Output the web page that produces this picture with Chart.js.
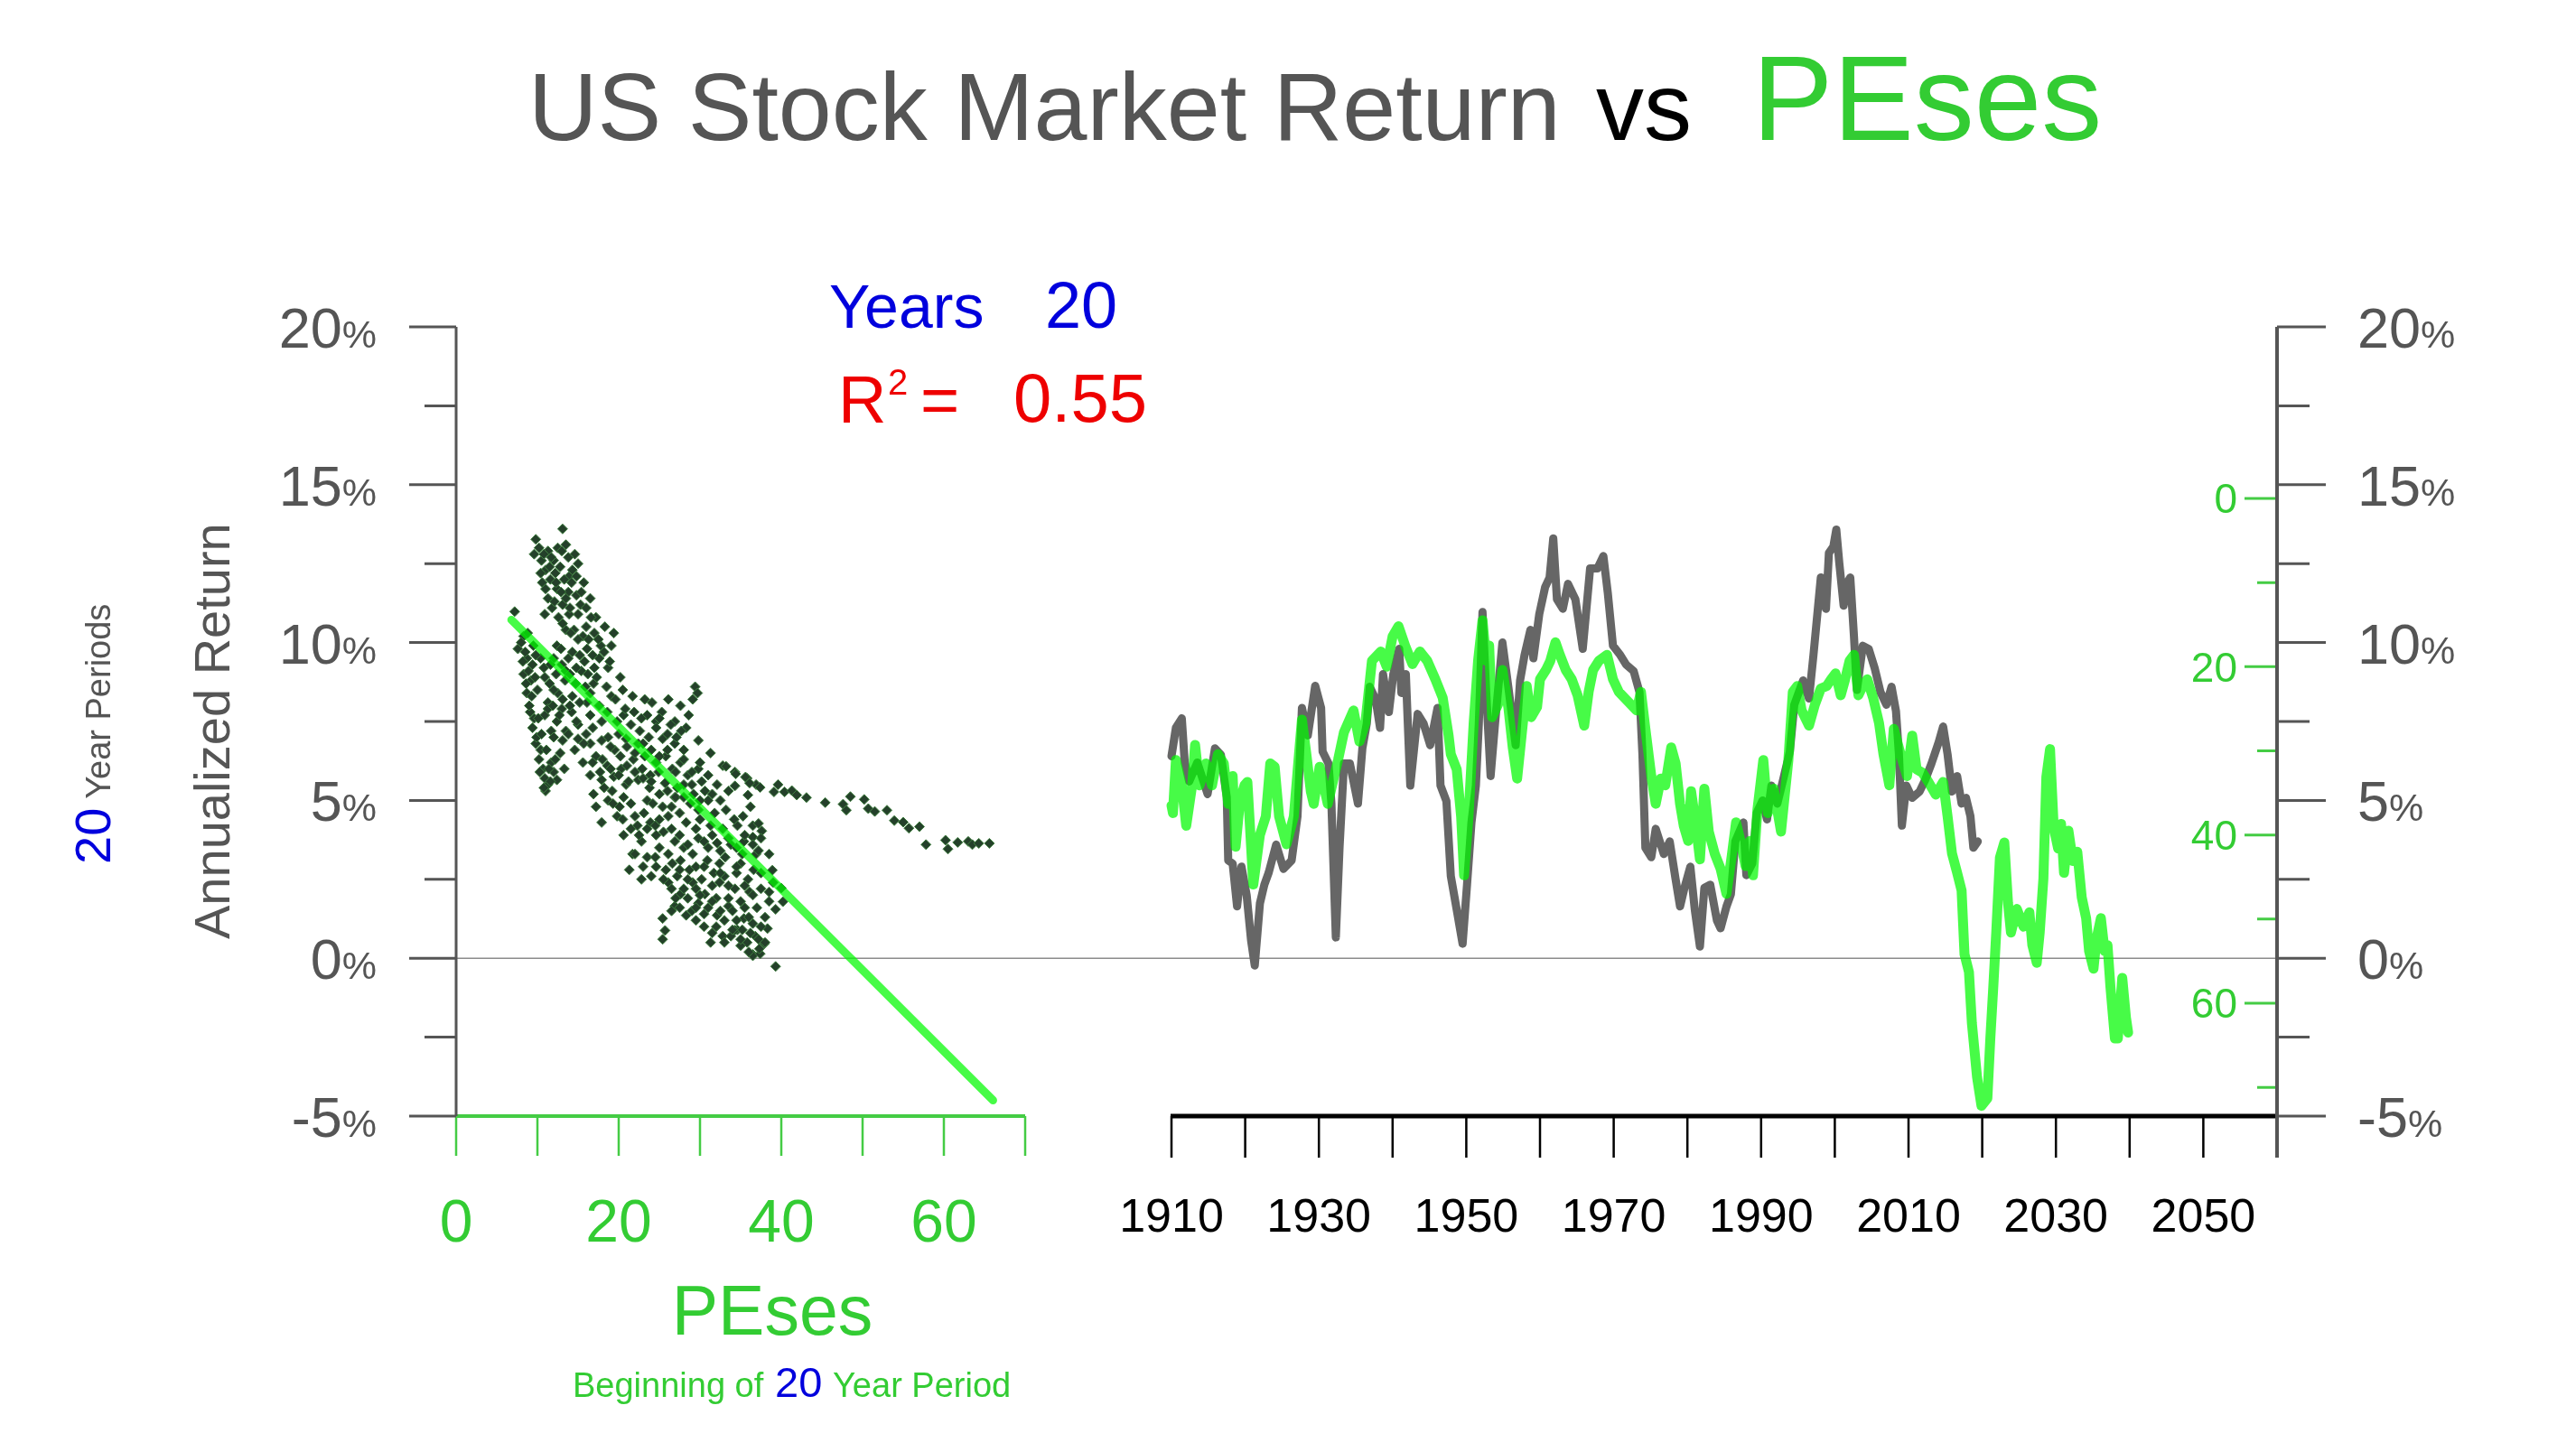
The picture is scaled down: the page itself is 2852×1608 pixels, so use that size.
<!DOCTYPE html>
<html>
<head>
<title>US Stock Market Return vs PEses</title>
<script src="https://cdn.jsdelivr.net/npm/chart.js"></script>
<style>
  html, body { margin: 0; padding: 0; background: #fff; }
  body { width: 2852px; height: 1608px; overflow: hidden; position: relative;
         font-family: "Liberation Sans", Arial, sans-serif; }
  canvas { position: absolute; left: 0; top: 0; }
  .t { position: absolute; white-space: nowrap; line-height: 1; }
  .rot { transform-origin: 0 0; transform: rotate(-90deg); }
</style>
</head>
<body>
<canvas id="peChart" width="2852" height="1608"></canvas>
<canvas id="timeChart" width="2852" height="1608"></canvas>

<div class="t" style="left:585px; top:65px; font-size:106px; color:#555;">US Stock Market Return</div>
<div class="t" style="left:1767px; top:65px; font-size:106px; color:#000;">vs</div>
<div class="t" style="left:1940px; top:42px; font-size:134px; color:#33cc33;">PEses</div>

<div class="t" style="left:918px; top:305px; font-size:68px; color:#0000dd;">Years</div>
<div class="t" style="left:1157px; top:302px; font-size:72px; color:#0000dd;">20</div>
<div class="t" style="left:928px; top:406px; font-size:74px; color:#ee0000;">R</div>
<div class="t" style="left:983px; top:403px; font-size:40px; color:#ee0000;">2</div>
<div class="t" style="left:1019px; top:406px; font-size:74px; color:#ee0000;">=</div>
<div class="t" style="left:1122px; top:403px; font-size:76px; color:#ee0000;">0.55</div>

<div class="t rot" style="left:207px; top:1040px; font-size:56px; color:#555;">Annualized Return</div>
<div class="t rot" style="left:75px; top:957px; font-size:56px; color:#555;"><span style="color:#0000dd;">20</span><span style="font-size:38px;"> Year Periods</span></div>

<div class="t" style="left:855px; top:1413px; font-size:77px; color:#33cc33; transform:translateX(-50%);">PEses</div>
<div class="t" style="left:634px; top:1515px; font-size:38px; color:#33cc33;">Beginning of</div>
<div class="t" style="left:858px; top:1507px; font-size:47px; color:#0000dd;">20</div>
<div class="t" style="left:922px; top:1515px; font-size:38px; color:#33cc33;">Year Period</div>

<script>
// ---- data ----
// scatter: PE at beginning of the 20 year period vs annualized return (%)
const scatterPE = [
  13.1, 9.8, 9.6, 11.3, 12.0, 13.5, 14.6, 15.0, 10.6, 12.4, 13.9, 15.7, 16.5, 11.3, 13.1, 10.9, 15.0, 17.2, 18.3, 19.4,
  19.1, 7.2, 8.3, 7.6, 13.5, 12.4, 14.3, 16.1, 17.6, 8.7, 9.4, 8.3, 10.9, 13.5, 15.4, 18.7, 20.2, 16.9, 8.7, 11.3,
  14.3, 16.1, 19.1, 21.7, 23.2, 26.1, 27.6, 29.4, 29.1, 9.1, 10.9, 12.4, 15.0, 16.5, 17.9, 20.6, 23.5, 24.6, 26.9, 28.3,
  9.4, 11.7, 13.1, 9.8, 15.0, 16.5, 18.7, 20.9, 22.4, 25.4, 26.9, 29.8, 31.3, 10.2, 11.7, 17.2, 20.2, 23.2, 24.6, 27.6,
  29.8, 32.8, 34.3, 35.8, 36.9, 10.9, 11.3, 12.4, 16.5, 17.9, 19.4, 20.9, 22.4, 23.9, 25.7, 28.0, 30.6, 32.1, 16.9, 18.7,
  20.6, 23.5, 25.4, 26.9, 29.8, 17.2, 17.9, 19.8, 22.0, 23.9, 26.1, 28.3, 31.3, 32.8, 34.6, 36.5, 20.6, 22.8, 24.6, 26.9,
  29.8, 32.1, 35.4, 21.7, 23.5, 21.3, 22.8, 24.6, 26.1, 27.6, 29.1, 30.9, 33.1, 35.0, 36.9, 26.1, 27.6, 29.1, 30.6, 32.4,
  34.3, 36.1, 26.9, 28.3, 29.8, 32.1, 33.5, 35.4, 25.4, 25.7, 25.4, 31.3, 32.8, 34.6, 35.8, 36.5,
  33.2, 34.4, 35.6, 36.1, 34.3, 35.9, 37.4, 39.1, 39.6, 40.4, 41.3, 41.9, 43.1, 45.4, 47.6, 48.5, 48.0, 50.2, 50.7, 51.5,
  53.0, 53.9, 55.0, 55.7, 57.0, 57.8, 60.2, 60.5, 61.7, 63.0, 63.5, 64.3, 65.6, 37.2, 37.6, 36.5, 37.2, 38.9, 40.0, 40.2,
  39.3, 38.3, 37.9, 36.5, 37.4, 39.3, 35.0, 34.3,
  10.5, 11.0, 11.6, 12.2, 12.8, 13.3, 13.8, 14.2, 14.8, 15.3, 11.8, 12.6, 13.9, 14.5, 15.6, 16.3, 17.0, 17.8, 16.8, 15.8,
  14.8, 13.8, 12.9, 12.0, 11.5, 12.5, 13.4, 14.7, 15.9, 17.3, 18.5, 19.6, 20.8, 21.5, 22.6, 23.7, 24.6, 25.3, 26.4, 27.7,
  28.6, 29.7, 16.8, 17.7, 18.6, 19.5, 20.3, 21.2, 21.8, 22.9, 23.8, 24.9, 25.8, 26.6, 27.2, 28.5, 29.2, 30.2, 31.0, 19.2,
  20.1, 21.5, 22.3, 23.1, 24.2, 25.0, 26.5, 27.5, 28.8, 30.0, 31.8, 33.2, 34.2, 35.3, 36.2, 22.0, 23.0, 24.0, 25.0, 25.8,
  26.6, 27.2, 28.0, 28.7, 29.5, 30.2, 31.0, 31.7, 32.4, 33.0, 33.8, 34.5, 35.2, 35.9, 36.6, 37.5, 27.0, 28.0, 29.0, 30.0,
  31.0, 32.0, 33.0, 34.0, 35.0, 36.0, 37.0, 38.0, 30.5, 31.5, 33.8, 35.2, 36.8, 37.3, 36.0, 29.5, 26.5, 8.0, 8.5, 8.9,
  9.2, 9.0, 9.6, 9.9, 10.4, 10.7, 11.0, 11.6, 12.0, 12.8, 13.5, 14.2, 14.6, 15.6, 16.0, 10.0, 10.8, 11.3, 12.0, 13.0,
  8.6, 9.5,
  10.2, 10.8, 11.7, 12.5, 13.0, 13.8, 14.3, 11.5, 12.3, 12.9, 13.5, 14.0, 14.8, 15.4, 16.0, 16.6, 12.1, 11.0, 10.4, 13.1,
  14.1, 15.0, 16.0, 17.5, 18.2, 18.9, 17.0, 16.2, 15.2, 14.0, 13.0, 12.3, 11.6, 10.4, 9.8,
  12.0, 13.1, 14.0, 15.2, 16.5, 17.6, 18.6, 19.8, 20.5, 21.9, 22.8, 24.1, 25.0, 26.0, 27.1, 28.0, 13.8, 14.8, 15.7, 16.8,
  17.9, 19.0, 20.0, 21.0, 22.0, 23.0, 24.0, 25.0, 26.0, 27.0, 28.0, 29.0, 30.0, 31.0, 18.0, 19.0, 20.0, 21.0, 22.0, 23.0,
  24.0, 25.0, 26.0, 27.0, 28.0, 29.0, 30.0, 31.5, 32.5, 33.5, 18.2, 19.3, 20.5, 21.5, 22.5, 23.5, 24.5, 25.5, 26.5, 27.5,
  28.5, 29.5, 30.5, 31.5, 32.5, 33.5, 34.5, 35.5, 36.5, 37.5, 38.5,
  24.5, 25.5, 26.5, 27.5, 28.5, 29.5, 30.5, 31.5, 32.5, 33.5, 34.5, 35.5, 36.5, 37.5, 38.5, 27.5, 28.5, 29.5, 30.5, 31.5,
  32.5, 33.5, 34.5, 35.5, 36.5, 37.5, 38.5, 39.0, 32.0, 33.0, 34.0, 35.0, 36.2, 37.2, 38.0,
  8.2, 8.8, 9.3, 9.7, 10.1, 10.5, 11.1, 11.4, 10.3, 10.8, 12.2, 13.3, 12.7, 11.9
];
const scatterRet = [
  13.6, 13.27, 12.8, 12.9, 12.6, 13.1, 12.8, 12.5, 11.9, 11.7, 12.1, 11.9, 11.4, 11.4, 11.2, 10.9, 10.9, 10.8, 10.5, 10.3,
  9.9, 10.98, 10.2, 9.8, 10.4, 9.9, 9.7, 9.8, 9.5, 9.5, 9.3, 9.0, 8.9, 9.1, 9.1, 9.2, 8.9, 8.7, 8.4, 8.1,
  8.3, 8.1, 8.3, 8.3, 8.2, 8.2, 8.0, 8.6, 8.2, 7.8, 7.7, 7.5, 7.4, 7.7, 7.5, 7.7, 7.7, 7.5, 7.5, 7.3,
  7.3, 7.2, 6.9, 6.8, 6.95, 6.8, 7.0, 6.95, 6.8, 6.95, 6.8, 6.9, 6.5, 6.3, 6.2, 6.4, 6.4, 6.4, 6.2, 6.2,
  6.0, 6.1, 5.9, 5.7, 5.5, 5.7, 5.5, 5.65, 5.8, 5.65, 5.75, 5.5, 5.65, 5.8, 5.55, 5.5, 5.3, 5.5, 5.2, 5.0,
  5.1, 5.0, 4.8, 5.1, 4.7, 4.8, 4.3, 4.5, 4.5, 4.3, 4.5, 4.3, 4.2, 4.1, 4.2, 4.2, 3.9, 3.7, 3.9, 3.7,
  3.8, 3.65, 3.7, 3.3, 3.2, 2.8, 2.5, 2.9, 3.3, 3.1, 3.3, 3.1, 3.2, 3.0, 3.3, 2.4, 2.03, 2.4, 2.03, 2.4,
  2.2, 2.1, 1.65, 1.36, 1.74, 1.36, 1.65, 1.26, 1.26, 0.88, 0.6, 0.5, 0.7, 0.9, 0.5, 0.12,
  6.08, 5.84, 5.74, 5.55, 5.46, 5.17, 5.41, 5.27, 5.5, 5.27, 5.31, 5.17, 5.09, 4.93, 4.88, 5.12, 4.69, 5.03, 4.74, 4.65,
  4.69, 4.36, 4.31, 4.12, 4.17, 3.6, 3.74, 3.46, 3.67, 3.7, 3.6, 3.64, 3.64, 4.27, 4.03, 3.84, 3.41, 2.79, 2.22, 1.79,
  1.55, 0.94, 0.46, 0.08, 0.14, -0.26, 0.4, 0.89,
  12.6, 12.3, 12.0, 12.2, 12.4, 12.0, 11.6, 11.9, 11.5, 11.2, 11.1, 10.8, 10.9, 10.4, 10.2, 10.1, 10.3, 9.9, 9.6, 9.4,
  9.2, 9.5, 9.8, 9.5, 8.7, 8.4, 8.8, 8.7, 8.6, 8.9, 8.6, 8.2, 7.9, 7.4, 7.2, 7.0, 7.3, 7.8, 7.4, 7.2,
  7.7, 8.4, 6.2, 5.9, 6.1, 6.6, 6.0, 5.6, 6.3, 6.0, 5.4, 5.9, 6.4, 6.0, 5.4, 5.8, 5.2, 5.6, 5.0, 5.3,
  4.8, 4.9, 4.2, 4.6, 4.9, 4.4, 4.8, 4.6, 4.9, 4.4, 4.6, 4.7, 4.4, 4.5, 4.8, 3.3, 2.9, 2.6, 3.5, 2.8,
  3.0, 2.6, 3.5, 2.8, 2.9, 2.5, 3.5, 2.7, 3.0, 2.6, 3.6, 2.7, 3.3, 2.5, 2.8, 2.2, 1.9, 2.2, 1.5, 2.0,
  1.6, 1.9, 1.2, 1.5, 1.8, 1.3, 1.6, 1.3, 1.0, 0.8, 0.7, 0.9, 0.7, 0.3, 0.2, 1.2, 1.5, 10.0, 9.7, 9.1,
  8.8, 8.0, 7.6, 7.0, 6.6, 6.0, 5.3, 5.6, 5.9, 6.5, 7.2, 7.8, 6.6, 6.2, 7.1, 8.5, 9.2, 7.9, 7.0, 7.9,
  8.7, 9.9,
  13.0, 12.8, 12.7, 13.0, 12.9, 12.7, 12.3, 12.4, 11.9, 11.6, 11.4, 11.1, 12.1, 11.6, 11.1, 10.8, 11.3, 11.7, 12.2, 10.6,
  10.3, 10.1, 10.5, 10.1, 9.7, 9.4, 9.2, 9.0, 9.6, 9.0, 9.3, 9.0, 9.3, 9.5, 9.6,
  8.5, 8.2, 8.0, 8.1, 8.4, 8.0, 7.8, 7.5, 8.5, 7.8, 7.6, 8.1, 7.6, 7.1, 7.0, 6.6, 7.1, 7.5, 6.8, 7.3,
  6.9, 6.7, 7.1, 6.7, 6.5, 6.8, 6.6, 6.4, 6.6, 5.9, 6.3, 5.9, 6.2, 5.8, 6.3, 6.0, 5.8, 6.1, 5.9, 5.7,
  5.6, 5.2, 5.3, 5.1, 5.1, 5.5, 5.0, 5.2, 5.0, 5.3, 5.4, 4.9, 4.4, 4.1, 3.9, 4.1, 4.2, 4.0, 4.1, 3.9,
  3.6, 4.1, 3.7, 3.9, 3.4, 3.8, 3.5, 3.9, 3.6, 3.8, 3.3,
  3.2, 2.5, 2.2, 2.8, 2.5, 2.2, 2.9, 2.3, 2.7, 2.3, 2.9, 2.3, 2.0, 2.7, 2.1, 1.6, 1.9, 1.6, 1.4, 1.8,
  1.5, 1.9, 1.2, 1.6, 1.1, 1.0, 1.8, 2.4, 1.0, 0.5, 0.9, 0.6, 0.8, 0.6, 0.5,
  9.4, 10.3, 8.3, 8.9, 7.6, 7.1, 6.6, 6.0, 5.9, 5.4, 6.3, 6.0, 7.7, 8.0
];
// regression line end points
const fitPE = [6.8, 66.05];
const fitRet = [10.72, -4.5];

// 20 year annualized return (%) against time
const returnYears = [
  1910.0, 1910.6, 1911.4, 1911.8, 1912.4, 1913.5, 1914.9, 1915.9, 1916.7, 1917.5, 1917.7, 1918.3, 1918.9, 1919.5, 1920.2,
  1920.8, 1921.3, 1922.0, 1922.6, 1923.2, 1924.2, 1925.2, 1926.3, 1927.1, 1927.7, 1928.5, 1929.5, 1930.3, 1930.5, 1931.3,
  1931.7, 1932.3, 1932.8, 1933.4, 1934.2, 1934.7, 1935.3, 1935.9, 1936.5, 1936.9, 1937.7, 1938.3, 1938.7, 1939.5, 1940.1,
  1940.9, 1941.2, 1941.8, 1942.4, 1943.4, 1944.2, 1945.1, 1946.1, 1946.5, 1947.3, 1947.9, 1948.7, 1949.5, 1950.1, 1950.7,
  1951.3, 1951.7, 1952.2, 1952.7, 1953.3, 1953.9, 1954.9, 1955.7, 1956.7, 1957.3, 1957.9, 1958.7, 1959.1, 1959.9, 1960.7,
  1961.3, 1961.8, 1962.3, 1963.1, 1963.8, 1964.8, 1965.8, 1966.8, 1967.8, 1968.6, 1969.2, 1969.9, 1970.9, 1971.7, 1972.7,
  1973.5, 1973.9, 1974.3, 1975.1, 1975.7, 1976.8, 1977.6, 1978.4, 1979.0, 1979.6, 1980.4, 1981.0, 1981.7, 1982.3, 1983.1,
  1984.0, 1984.5, 1985.3, 1985.9, 1986.5, 1987.6, 1988.0, 1988.8, 1989.4, 1990.2, 1990.8, 1991.4, 1992.2, 1993.0, 1993.9,
  1994.5, 1995.7, 1996.5, 1997.1, 1997.7, 1998.1, 1998.8, 1999.2, 1999.8, 2000.2, 2000.6, 2001.2, 2001.6, 2002.1, 2002.6,
  2003.0, 2003.8, 2004.6, 2005.4, 2006.2, 2007.0, 2007.7, 2008.3, 2008.7, 2009.1, 2009.7, 2010.5, 2011.5, 2012.3, 2013.1,
  2014.1, 2014.7, 2015.3, 2015.9, 2016.6, 2017.2, 2017.8, 2018.4, 2018.8, 2019.4
];
const returnPct = [
  6.4, 7.3, 7.6, 6.2, 5.6, 6.2, 5.2, 6.65, 6.45, 5.1, 3.1, 3.0, 1.64, 2.9, 2.0,
  0.57, -0.23, 1.74, 2.33, 2.72, 3.6, 2.83, 3.1, 4.5, 7.93, 7.06, 8.63, 7.93, 6.55, 6.17,
  4.9, 0.66, 3.5, 6.17, 6.17, 5.6, 4.9, 6.65, 7.44, 8.6, 8.2, 7.3, 9.0, 7.8, 9.0,
  9.8, 8.4, 9.0, 5.47, 7.74, 7.44, 6.75, 7.93, 5.47, 4.98, 2.6, 1.54, 0.46, 2.33, 4.3,
  5.47, 7.44, 10.97, 8.43, 5.77, 7.44, 10.0, 8.6, 6.75, 8.8, 9.6, 10.4, 9.5, 10.9, 11.76,
  12.06, 13.3, 11.37, 11.07, 11.86, 11.37, 9.8, 12.35, 12.35, 12.74, 11.57, 9.9, 9.6, 9.3, 9.1,
  8.43, 6.46, 3.5, 3.2, 4.1, 3.3, 3.7, 2.5, 1.64, 2.23, 2.9, 1.54, 0.37, 2.23, 2.33,
  1.2, 0.95, 1.64, 2.03, 3.7, 4.3, 2.63, 3.0, 4.6, 5.0, 4.4, 5.47, 4.9, 5.67, 6.55,
  8.03, 8.8, 8.23, 9.6, 11.07, 12.06, 11.07, 12.84, 13.04, 13.58, 12.54, 11.17, 11.86, 12.06, 10.19,
  8.5, 9.9, 9.8, 9.2, 8.43, 8.03, 8.6, 7.83, 6.46, 4.2, 5.47, 5.08, 5.28, 5.67, 6.16,
  6.85, 7.34, 6.46, 5.28, 5.77, 4.9, 5.08, 4.5, 3.5, 3.7
];

// PEses at the beginning of the period, plotted at its end (inverted scale)
const peYears = [
  1910.0, 1910.2, 1910.6, 1911.4, 1912.0, 1912.8, 1913.2, 1913.8, 1914.7, 1915.5, 1916.3, 1917.1, 1917.7, 1918.3, 1918.7,
  1919.3, 1919.9, 1920.3, 1921.1, 1922.0, 1922.8, 1923.4, 1924.0, 1924.6, 1925.6, 1926.6, 1927.3, 1927.7, 1928.3, 1928.9,
  1929.3, 1930.1, 1931.2, 1932.0, 1932.6, 1933.4, 1934.7, 1935.5, 1936.3, 1937.2, 1938.4, 1939.2, 1940.0, 1940.8, 1941.7,
  1942.7, 1943.7, 1944.7, 1945.8, 1946.8, 1947.6, 1947.9, 1948.7, 1949.3, 1949.7, 1950.3, 1951.0, 1951.6, 1952.2, 1952.7,
  1953.1, 1953.5, 1954.3, 1954.9, 1955.7, 1956.3, 1956.9, 1957.5, 1958.2, 1958.8, 1959.6, 1960.0, 1960.8, 1961.4, 1962.1,
  1962.7, 1963.5, 1964.3, 1965.1, 1966.0, 1966.6, 1967.2, 1968.0, 1969.1, 1969.9, 1970.7, 1971.9, 1973.1, 1973.7, 1974.3,
  1975.1, 1975.7, 1976.4, 1977.0, 1977.8, 1978.4, 1979.0, 1979.5, 1980.1, 1980.5, 1981.1, 1981.7, 1982.3, 1982.9, 1983.7,
  1984.5, 1985.3, 1986.0, 1986.6, 1987.2, 1987.9, 1988.5, 1988.9, 1989.5, 1990.3, 1990.9, 1991.7, 1992.7, 1993.7, 1994.3,
  1994.9, 1995.5, 1996.5, 1997.3, 1998.1, 1998.9, 1999.5, 2000.1, 2000.8, 2001.4, 2002.0, 2002.6, 2003.2, 2003.8, 2004.4,
  2005.2, 2006.0, 2006.6, 2007.4, 2008.0, 2008.8, 2009.8, 2010.5, 2011.1, 2011.9, 2012.7, 2013.7, 2014.7, 2015.3, 2015.9,
  2016.6, 2017.2, 2017.6, 2018.2, 2018.6, 2019.3, 2019.9, 2020.7, 2021.1, 2021.5, 2021.9, 2022.4, 2023.0, 2023.5, 2023.9,
  2024.7, 2025.6, 2026.4, 2026.8, 2027.4, 2027.8, 2028.3, 2028.7, 2029.2, 2029.7, 2030.3, 2030.7, 2031.1, 2031.7, 2032.3,
  2032.9, 2033.5, 2034.1, 2034.5, 2035.1, 2035.5, 2036.1, 2036.6, 2037.0, 2037.4, 2038.0, 2038.4, 2039.0, 2039.5, 2039.8
];
const peValues = [
  36.5, 37.4, 31.1, 34.1, 38.9, 34.1, 29.3, 34.1, 31.5, 34.1, 30.4, 31.5, 36.3, 33.0, 41.4,
  35.9, 34.1, 33.7, 45.9, 40.0, 37.8, 31.5, 31.9, 37.8, 41.1, 37.8, 30.4, 26.3, 30.4, 34.8,
  36.3, 31.9, 36.3, 33.3, 31.1, 27.8, 25.2, 28.9, 26.7, 19.3, 18.2, 20.0, 16.4, 15.2, 17.5,
  19.7, 18.2, 19.3, 21.5, 23.7, 28.2, 30.4, 32.2, 37.8, 44.8, 37.8, 26.7, 19.3, 14.5, 19.3,
  17.5, 26.0, 24.5, 20.4, 24.8, 29.6, 33.3, 28.2, 22.3, 26.0, 24.8, 21.5, 20.4, 19.3, 17.1,
  18.6, 20.4, 21.5, 23.4, 27.0, 23.0, 20.4, 19.3, 18.6, 21.5, 23.0, 24.1, 25.2, 23.0, 27.4,
  33.0, 36.3, 33.3, 34.1, 29.6, 31.5, 36.3, 38.9, 40.7, 34.8, 38.5, 42.9, 34.5, 39.6, 42.2,
  44.0, 47.0, 42.6, 38.5, 40.7, 43.7, 40.7, 44.8, 37.0, 31.1, 37.4, 34.5, 39.6, 31.1, 23.0,
  22.3, 25.2, 27.0, 24.5, 22.6, 22.3, 21.5, 20.8, 23.4, 21.5, 19.3, 18.6, 23.4, 22.3, 21.5,
  23.7, 26.7, 30.4, 34.1, 27.4, 30.0, 33.0, 28.2, 32.2, 32.6, 33.7, 35.2, 33.7, 37.8, 42.2,
  44.5, 46.6, 54.2, 56.3, 62.4, 68.8, 72.2, 71.3, 64.2, 58.1, 51.6, 42.7, 40.9, 48.1, 51.6,
  48.8, 50.9, 49.2, 53.1, 55.2, 51.6, 45.2, 33.1, 29.8, 39.1, 41.6, 38.7, 44.5, 39.5, 43.1,
  42.0, 47.4, 49.9, 53.8, 55.9, 52.4, 49.9, 53.8, 53.1, 58.1, 64.2, 64.2, 57.0, 61.7, 63.5
];

// ticks and tick labels
const returnTicks = [-5, -2.5, 0, 2.5, 5, 7.5, 10, 12.5, 15, 17.5, 20];
const returnLabels = [-5, 0, 5, 10, 15, 20];
const peBottomTicks = [0, 10, 20, 30, 40, 50, 60, 70];
const peBottomLabels = [0, 20, 40, 60];
const yearTicks = [1910, 1920, 1930, 1940, 1950, 1960, 1970, 1980, 1990, 2000, 2010, 2020, 2030, 2040, 2050, 2060];
const yearLabels = [1910, 1930, 1950, 1970, 1990, 2010, 2030, 2050];
const peRightTicks = [0, 10, 20, 30, 40, 50, 60, 70];
const peRightLabels = [0, 20, 40, 60];

// ---- layout ----
const W = 2852, H = 1608;
const LEFT_AREA = {left: 505, right: 1135, top: 362, bottom: 1236};
const RIGHT_AREA = {left: 1297, right: 2521, top: 362, bottom: 1236};
const FONT = '"Liberation Sans", Arial, sans-serif';
const GRAY = '#555555';
const TICK_GREEN = '#44cc44';
const LABEL_GREEN = '#33cc33';
const LINE_GREEN = 'rgba(0, 250, 0, 0.72)';

function padFor(area) {
    return {left: area.left, right: W - area.right, top: area.top, bottom: H - area.bottom};
}

// "20%" with a smaller percent sign
function pctLabel(ctx, value, x, baseline, align) {
    const num = String(value);
    ctx.font = '63px ' + FONT;
    const wNum = ctx.measureText(num).width;
    ctx.font = '43px ' + FONT;
    const wPct = ctx.measureText('%').width;
    const start = align === 'right' ? x - wNum - wPct : x;
    ctx.fillStyle = GRAY;
    ctx.textAlign = 'left';
    ctx.textBaseline = 'alphabetic';
    ctx.font = '63px ' + FONT;
    ctx.fillText(num, start, baseline);
    ctx.font = '43px ' + FONT;
    ctx.fillText('%', start + wNum, baseline);
}

const peAxes = {
    id: 'peAxes',
    beforeDatasetsDraw(chart) {
        const {ctx, scales: {y}} = chart;
        const area = chart.chartArea;
        const y0 = y.getPixelForValue(0);
        ctx.save();
        ctx.strokeStyle = '#8c8c8c';
        ctx.lineWidth = 1.5;
        ctx.beginPath();
        ctx.moveTo(area.left, y0);
        ctx.lineTo(RIGHT_AREA.right, y0);
        ctx.stroke();
        ctx.restore();
    },
    afterDatasetsDraw(chart) {
        const {ctx, scales: {x, y}} = chart;
        const area = chart.chartArea;
        ctx.save();
        // green PE axis at the bottom
        ctx.strokeStyle = TICK_GREEN;
        ctx.lineWidth = 2.5;
        ctx.beginPath();
        peBottomTicks.forEach(v => {
            const px = x.getPixelForValue(v);
            ctx.moveTo(px, area.bottom);
            ctx.lineTo(px, area.bottom + 44);
        });
        ctx.stroke();
        ctx.lineWidth = 4;
        ctx.beginPath();
        ctx.moveTo(area.left, area.bottom);
        ctx.lineTo(area.right, area.bottom);
        ctx.stroke();
        ctx.fillStyle = LABEL_GREEN;
        ctx.font = '66px ' + FONT;
        ctx.textAlign = 'center';
        ctx.textBaseline = 'alphabetic';
        peBottomLabels.forEach(v => ctx.fillText(String(v), x.getPixelForValue(v), area.bottom + 139));

        // return axis on the left
        ctx.strokeStyle = GRAY;
        ctx.lineWidth = 3;
        ctx.beginPath();
        ctx.moveTo(area.left, area.top);
        ctx.lineTo(area.left, area.bottom);
        returnTicks.forEach(v => {
            const py = y.getPixelForValue(v);
            const len = v % 5 === 0 ? 52 : 35;
            ctx.moveTo(area.left - len, py);
            ctx.lineTo(area.left, py);
        });
        ctx.stroke();
        returnLabels.forEach(v => pctLabel(ctx, v, area.left - 88, y.getPixelForValue(v) + 23, 'right'));
        ctx.restore();
    }
};

const timeAxes = {
    id: 'timeAxes',
    afterDatasetsDraw(chart) {
        const {ctx, scales: {x, y, pe}} = chart;
        const area = chart.chartArea;
        ctx.save();
        // years
        ctx.strokeStyle = '#000';
        ctx.lineWidth = 2.5;
        ctx.beginPath();
        yearTicks.forEach(v => {
            const px = x.getPixelForValue(v);
            ctx.moveTo(px, area.bottom);
            ctx.lineTo(px, area.bottom + 46);
        });
        ctx.stroke();
        ctx.lineWidth = 5;
        ctx.beginPath();
        ctx.moveTo(area.left - 1, area.bottom);
        ctx.lineTo(area.right, area.bottom);
        ctx.stroke();
        ctx.fillStyle = '#000';
        ctx.font = '52px ' + FONT;
        ctx.textAlign = 'center';
        ctx.textBaseline = 'alphabetic';
        yearLabels.forEach(v => ctx.fillText(String(v), x.getPixelForValue(v), area.bottom + 128));

        // green PE ticks pointing inward
        ctx.strokeStyle = TICK_GREEN;
        ctx.lineWidth = 3;
        ctx.beginPath();
        peRightTicks.forEach(v => {
            const py = pe.getPixelForValue(v);
            const len = v % 20 === 0 ? 36 : 22;
            ctx.moveTo(area.right - len, py);
            ctx.lineTo(area.right, py);
        });
        ctx.stroke();
        ctx.fillStyle = LABEL_GREEN;
        ctx.font = '46px ' + FONT;
        ctx.textAlign = 'right';
        peRightLabels.forEach(v => ctx.fillText(String(v), area.right - 44, pe.getPixelForValue(v) + 16.5));

        // return axis on the right
        ctx.strokeStyle = GRAY;
        ctx.lineWidth = 3;
        ctx.beginPath();
        returnTicks.forEach(v => {
            const py = y.getPixelForValue(v);
            const len = v % 5 === 0 ? 54 : 36;
            ctx.moveTo(area.right, py);
            ctx.lineTo(area.right + len, py);
        });
        ctx.stroke();
        ctx.lineWidth = 4;
        ctx.beginPath();
        ctx.moveTo(area.right, area.top);
        ctx.lineTo(area.right, area.bottom + 46);
        ctx.stroke();
        returnLabels.forEach(v => pctLabel(ctx, v, area.right + 89, y.getPixelForValue(v) + 23, 'left'));
        ctx.restore();
    }
};

new Chart(document.getElementById('peChart'), {
    type: 'scatter',
    data: {
        datasets: [{
            type: 'line',
            label: 'fit',
            data: fitPE.map((v, i) => ({x: v, y: fitRet[i]})),
            borderColor: LINE_GREEN,
            borderWidth: 9,
            borderCapStyle: 'round',
            pointRadius: 0,
            fill: false,
            order: 0
        }, {
            label: 'periods',
            data: scatterPE.map((v, i) => ({x: v, y: scatterRet[i]})),
            pointStyle: 'rectRot',
            pointRadius: 5.5,
            backgroundColor: '#24402a',
            borderColor: '#3f7f3f',
            borderWidth: 1,
            order: 1
        }]
    },
    options: {
        responsive: false,
        animation: false,
        events: [],
        layout: {padding: padFor(LEFT_AREA)},
        plugins: {legend: {display: false}, tooltip: {enabled: false}},
        scales: {
            x: {type: 'linear', min: 0, max: 70, display: false},
            y: {type: 'linear', min: -5, max: 20, display: false}
        }
    },
    plugins: [peAxes]
});

new Chart(document.getElementById('timeChart'), {
    type: 'line',
    data: {
        datasets: [{
            label: 'PEses',
            data: peYears.map((t, i) => ({x: t, y: peValues[i]})),
            yAxisID: 'pe',
            borderColor: LINE_GREEN,
            borderWidth: 11,
            borderJoinStyle: 'round',
            borderCapStyle: 'round',
            pointRadius: 0,
            tension: 0,
            clip: false,
            order: 0
        }, {
            label: 'Return',
            data: returnYears.map((t, i) => ({x: t, y: returnPct[i]})),
            yAxisID: 'y',
            borderColor: '#666666',
            borderWidth: 9,
            borderJoinStyle: 'round',
            borderCapStyle: 'round',
            pointRadius: 0,
            tension: 0,
            clip: false,
            order: 1
        }]
    },
    options: {
        responsive: false,
        animation: false,
        events: [],
        layout: {padding: padFor(RIGHT_AREA)},
        plugins: {legend: {display: false}, tooltip: {enabled: false}},
        scales: {
            x: {type: 'linear', min: 1910, max: 2060, display: false},
            y: {type: 'linear', position: 'right', min: -5, max: 20, display: false},
            pe: {type: 'linear', position: 'right', min: -20.39, max: 73.42, reverse: true, display: false}
        }
    },
    plugins: [timeAxes]
});
</script>
</body>
</html>
